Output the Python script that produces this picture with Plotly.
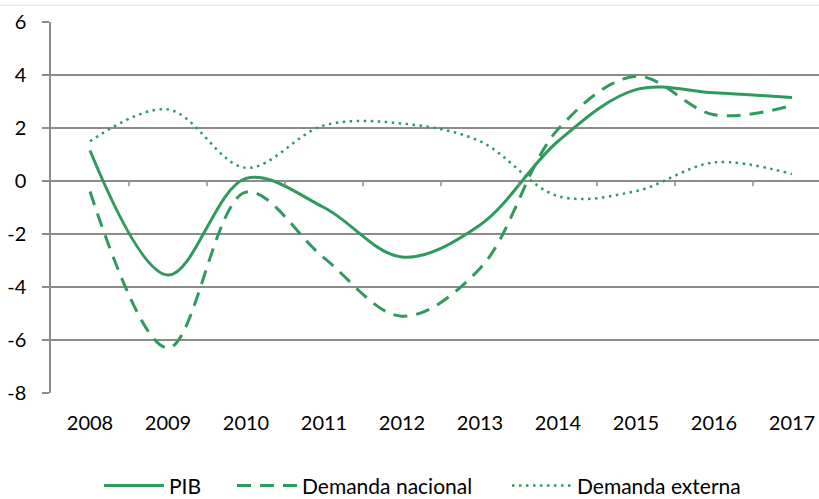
import plotly.graph_objects as go

years = ["2008", "2009", "2010", "2011", "2012", "2013", "2014", "2015", "2016", "2017"]
pib = [1.15, -3.55, 0.1, -1.0, -2.87, -1.66, 1.5, 3.45, 3.33, 3.15]
demanda_nacional = [-0.4, -6.3, -0.42, -2.9, -5.1, -3.3, 1.95, 3.95, 2.5, 2.85]
demanda_externa = [1.5, 2.7, 0.5, 2.1, 2.17, 1.5, -0.57, -0.38, 0.7, 0.26]
y_ticks = [-8, -6, -4, -2, 0, 2, 4, 6]
y_labels = ["-8", "-6", "-4", "-2", "0", "2", "4", "6"]

green = "#2e9a5e"
grid = "#8c8c8c"
font = "Lato"

fig = go.Figure()
fig.add_trace(go.Scatter(x=list(range(len(years))), y=pib, name="PIB", mode="lines", legend="legend",
                         line=dict(color=green, width=3, shape="spline", smoothing=1.0)))
fig.add_trace(go.Scatter(x=list(range(len(years))), y=demanda_nacional, name="Demanda nacional", mode="lines",
                         legend="legend2",
                         line=dict(color=green, width=3, shape="spline", smoothing=1.0, dash="14px,9px")))
fig.add_trace(go.Scatter(x=list(range(len(years))), y=demanda_externa, name="Demanda externa", mode="lines",
                         legend="legend3",
                         line=dict(color=green, width=2.5, shape="spline", smoothing=1.0, dash="2.5px,4.5px")))

# category boundary tick marks on the zero line
shapes = []
for i in range(len(years) - 1):
    shapes.append(dict(type="line", xref="x", yref="y", x0=i + 0.5, x1=i + 0.5, y0=0, y1=-0.2,
                       line=dict(color=grid, width=1.5)))
shapes.append(dict(type="line", xref="paper", yref="paper", x0=-0.07, x1=1, y0=1.045, y1=1.045,
                   line=dict(color="#d6e8e4", width=1)))

def leg(xpx):
    return dict(orientation="h", x=(xpx - 51) / 768, xanchor="left", y=-0.25, yanchor="middle",
                font=dict(family=font, size=21), itemwidth=60, bgcolor="rgba(0,0,0,0)")

fig.update_layout(
    width=819, height=499,
    margin=dict(l=51, r=0, t=22, b=106, autoexpand=False),
    paper_bgcolor="white", plot_bgcolor="white",
    font=dict(family=font, size=20, color="#000000"),
    showlegend=True,
    legend=leg(99), legend2=leg(232), legend3=leg(507),
    shapes=shapes,
    xaxis=dict(range=[-0.5, 9.346], tickvals=list(range(len(years))), ticktext=years,
               showgrid=False, zeroline=False, showline=False, ticks="", automargin=False,
               ticklabelstandoff=16, tickfont=dict(size=20)),
    yaxis=dict(range=[-8, 6], tickvals=y_ticks, ticktext=y_labels, automargin=False,
               showgrid=True, gridcolor=grid, gridwidth=1.5,
               zeroline=True, zerolinecolor=grid, zerolinewidth=1.5,
               showline=True, linecolor=grid, linewidth=1.5,
               ticks="outside", ticklen=7, tickcolor=grid, tickwidth=1.5,
               ticklabelstandoff=12, tickfont=dict(size=20)),
)

fig.write_html("out.html", config={"displayModeBar": False},
               post_script="document.body.style.margin='0';document.body.style.overflow='hidden';")
